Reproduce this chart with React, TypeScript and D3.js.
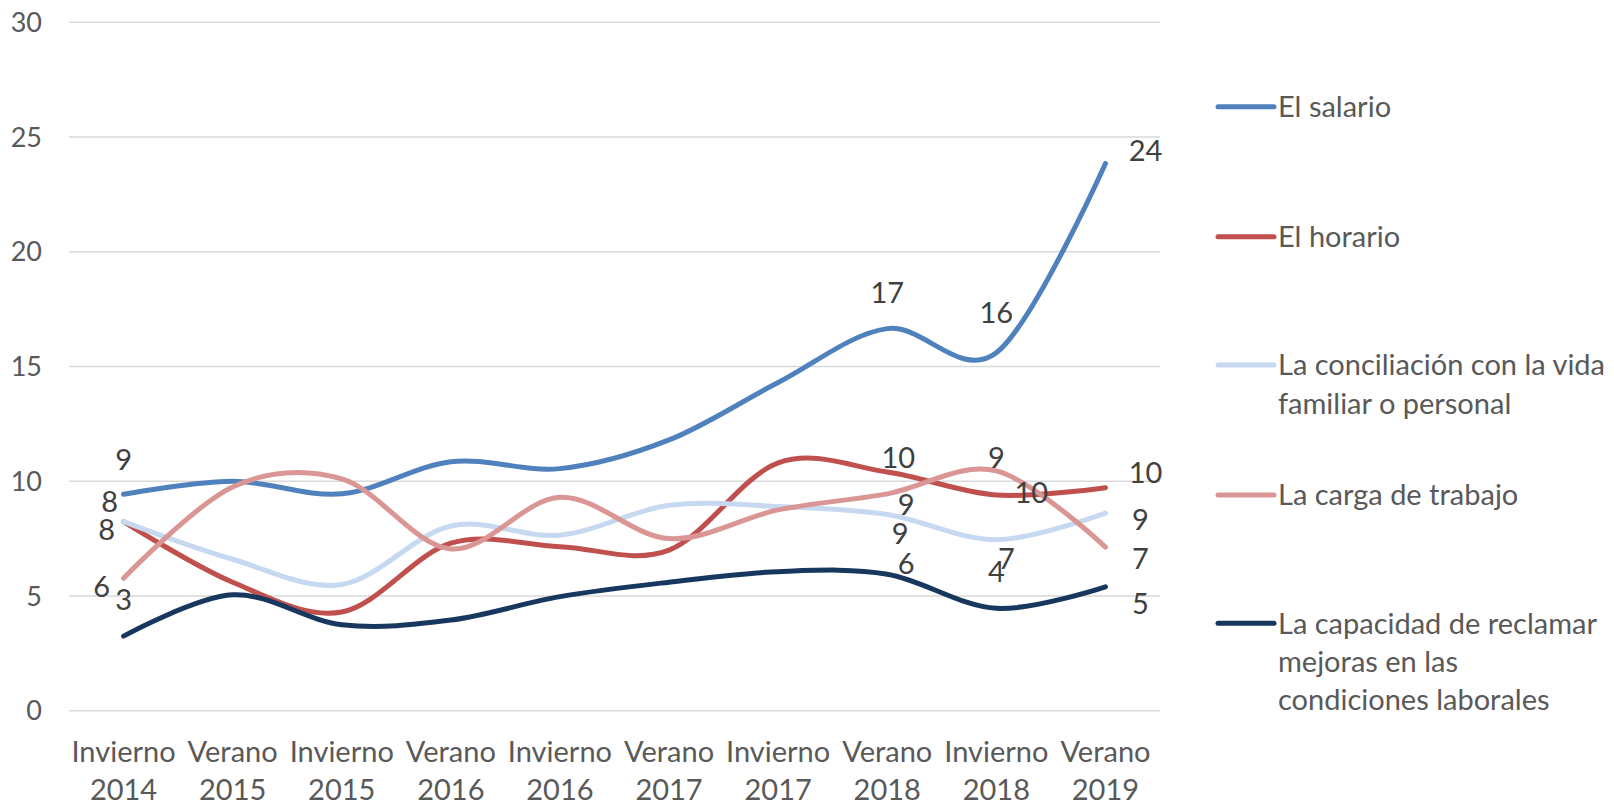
import React from "react";
import * as d3 from "d3";

// categories (season / year)
const seasons = ["Invierno", "Verano", "Invierno", "Verano", "Invierno", "Verano", "Invierno", "Verano", "Invierno", "Verano"];
const years = ["2014", "2015", "2015", "2016", "2016", "2017", "2017", "2018", "2018", "2019"];

// series values
const salario = [9.43, 10.0, 9.45, 10.85, 10.55, 11.8, 14.3, 16.65, 15.6, 23.85];
const horario = [8.24, 5.6, 4.3, 7.3, 7.15, 7.0, 10.8, 10.4, 9.4, 9.72];
const conciliacion = [8.24, 6.6, 5.5, 8.05, 7.65, 8.95, 8.9, 8.55, 7.45, 8.61];
const carga = [5.77, 9.75, 10.1, 7.05, 9.3, 7.5, 8.75, 9.45, 10.45, 7.13];
const capacidad = [3.25, 5.05, 3.75, 3.95, 4.97, 5.6, 6.06, 5.95, 4.46, 5.4];

const yTicks = [0, 5, 10, 15, 20, 25, 30];

const seriesNames = [
  ["El salario"],
  ["El horario"],
  ["La conciliación con la vida", "familiar o personal"],
  ["La carga de trabajo"],
  ["La capacidad de reclamar", "mejoras en las", "condiciones laborales"],
];

// which points carry a label, and where the label sits (dx, dy from point)
const labelIdx = [0, 7, 8, 9];
const labelOffsets = [
  // salario
  [[0, -35], [0, -36], [0, -40], [40, -13]],
  // horario
  [[-17, 8], [11, -14], [0, -37], [40, -15]],
  // conciliacion
  [[-14, -20], [13, 19], [10, 19], [35, 6]],
  // carga
  [[-22, 8], [19, 11], [35, 22], [35, 11]],
  // capacidad
  [[0, -37], [19, -11], [0, -37], [35, 17]],
];

const colors = ["#4F81BD", "#C0504D", "#C6D9F1", "#D99694", "#17375E"];
const legendY = [106.7, 236.7, 365, 495, 623.3];

const FONT = "Lato, 'Open Sans', sans-serif";

export default function App() {
  const width = 1614, height = 804;
  const plotLeft = 69, plotRight = 1160;
  const y0 = 710.7, y30 = 22.3;

  const cats = seasons.map((s, i) => i);
  const x = d3.scalePoint<number>().domain(cats).range([plotLeft, plotRight]).padding(0.5);
  const y = d3.scaleLinear().domain([0, 30]).range([y0, y30]);

  const allSeries = [salario, horario, conciliacion, carga, capacidad];

  const line = d3.line<number>()
    .x((d, i) => x(i) as number)
    .y(d => y(d))
    .curve(d3.curveCatmullRom.alpha(0));

  return (
    <div style={{ position: "absolute", left: 0, top: 0 }}>
      <svg width={width} height={height} style={{ display: "block", background: "#fff" }} fontFamily={FONT}>
        {/* gridlines + y ticks */}
        {yTicks.map(t => (
          <g key={t}>
            <line x1={plotLeft} x2={plotRight} y1={y(t)} y2={y(t)} stroke="#D9D9D9" strokeWidth={1.5} />
            <text x={42} y={y(t)} dy="0.36em" textAnchor="end" fontSize={27} fill="#595959">{t}</text>
          </g>
        ))}

        {/* category labels */}
        {cats.map(i => (
          <g key={i}>
            <text x={x(i)} y={751.7} dy="0.36em" textAnchor="middle" fontSize={29} fill="#595959">{seasons[i]}</text>
            <text x={x(i)} y={790} dy="0.36em" textAnchor="middle" fontSize={29} fill="#595959">{years[i]}</text>
          </g>
        ))}

        {/* lines */}
        {allSeries.map((s, k) => (
          <path key={k} d={line(s) || ""} fill="none" stroke={colors[k]} strokeWidth={5} strokeLinecap="round" />
        ))}

        {/* data labels */}
        {allSeries.map((s, k) =>
          labelIdx.map((idx, j) => (
            <text key={`${k}-${idx}`}
              x={(x(idx) as number) + labelOffsets[k][j][0]}
              y={y(s[idx]) + labelOffsets[k][j][1]}
              dy="0.36em" textAnchor="middle" fontSize={29} fill="#404040">
              {Math.round(s[idx])}
            </text>
          ))
        )}

        {/* legend */}
        {seriesNames.map((lines, k) => (
          <g key={k}>
            <line x1={1218} x2={1274} y1={legendY[k]} y2={legendY[k]} stroke={colors[k]} strokeWidth={5} strokeLinecap="round" />
            {lines.map((t, li) => (
              <text key={li} x={1278} y={legendY[k] + li * 38.3} dy="0.36em" fontSize={29} fill="#595959">{t}</text>
            ))}
          </g>
        ))}
      </svg>
    </div>
  );
}
